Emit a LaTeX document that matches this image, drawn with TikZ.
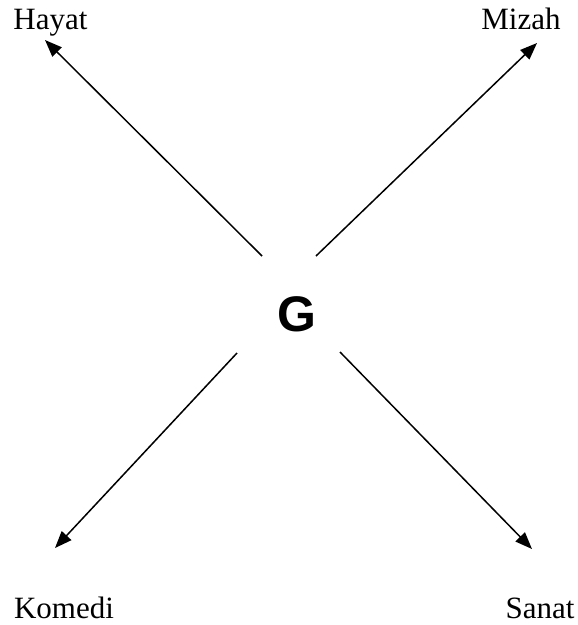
\documentclass[tikz,border=0pt]{standalone}
\usepackage{fontspec}
\setmainfont{Liberation Serif}
\newfontfamily\gfont{Liberation Sans}
\usetikzlibrary{arrows.meta}
\begin{document}
\begin{tikzpicture}[x=1pt,y=-1pt,
  lbl/.style={anchor=base,inner sep=0pt,font=\fontsize{31}{31}\selectfont},
  arr/.style={line width=1.5pt,-{Triangle[length=17pt,width=13pt]}}]
\useasboundingbox (0,0) rectangle (578,625);
\node[lbl] (hayat) at (50.5,29) {Hayat};
\node[lbl] (mizah) at (521,29) {Mizah};
\node[lbl] (komedi) at (64,618) {Komedi};
\node[lbl] (sanat) at (540,618) {Sanat};
\node[inner sep=0pt,font=\gfont\bfseries\fontsize{50}{50}\selectfont] (g) at (296.5,314.5) {G};
\coordinate (s1) at (262,256);
\coordinate (t1) at (45,40);
\coordinate (s2) at (316,256);
\coordinate (t2) at (537,43);
\coordinate (s3) at (237,353);
\coordinate (t3) at (55,548);
\coordinate (s4) at (340,352);
\coordinate (t4) at (532,549);
\draw[arr] (s1) -- (t1);
\draw[arr] (s2) -- (t2);
\draw[arr] (s3) -- (t3);
\draw[arr] (s4) -- (t4);
\end{tikzpicture}
\end{document}
